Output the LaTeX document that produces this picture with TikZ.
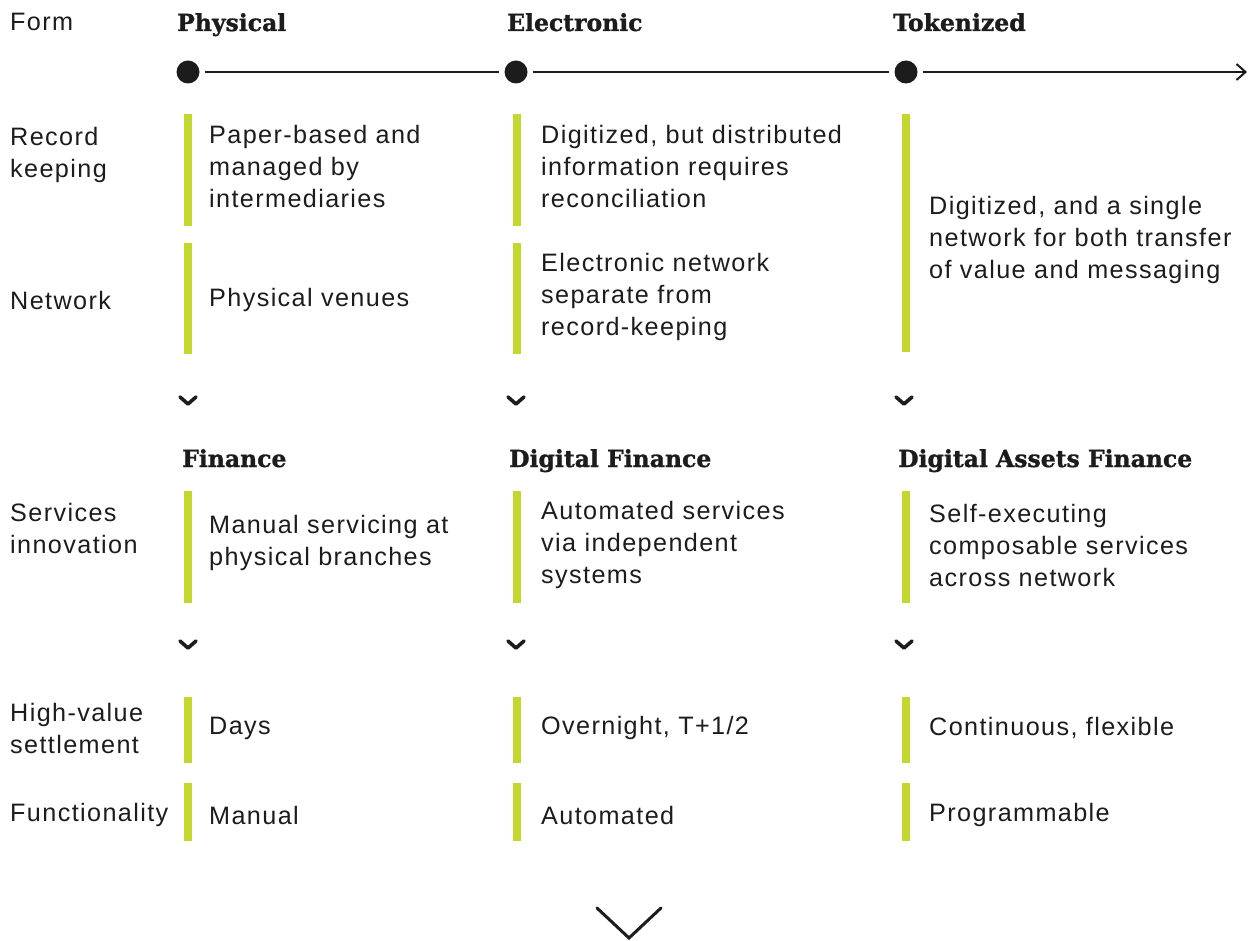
\documentclass[tikz,border=0pt]{standalone}
\usepackage{fontspec}
\usetikzlibrary{arrows.meta}
\newfontfamily\bodyfont[LetterSpace=5.5]{Liberation Sans}
\newfontfamily\headfont[FakeBold=1.2]{DejaVu Serif Bold}
\definecolor{bargreen}{HTML}{C4D72F}
\definecolor{ink}{HTML}{1C1C1C}
\begin{document}
\begin{tikzpicture}[x=1pt,y=-1pt,
  body/.style={anchor=west, align=left, inner sep=0pt, text=ink, font=\bodyfont\fontsize{25.2}{32}\selectfont},
  head/.style={anchor=base west, inner sep=0pt, text=ink, font=\headfont\fontsize{23.5}{28}\selectfont},
  bar/.style={fill=bargreen, draw=none},
  dot/.style={circle, fill=ink, draw=none, minimum size=23pt, inner sep=0pt},
  tline/.style={draw=ink, line width=2pt},
  chev/.style={draw=ink, line width=3.6pt, line cap=round, line join=round},
  bigchev/.style={draw=ink, line width=3pt, line cap=round, line join=miter}
]
\useasboundingbox (0,0) rectangle (1249,941);

% left labels
\node[body] (lform) at (10,22) {Form};
\node[body] (lrec) at (10,155) {Record\\keeping};
\node[body] (lnet) at (10,300) {Network};
\node[body] (lserv) at (10,528) {Services\\innovation};
\node[body] (lhv) at (10,728) {High-value\\settlement};
\node[body] (lfun) at (10,815) {Functionality};

% headers
\node[head] (h1) at (177,31) {Physical};
\node[head] (h2) at (507,31) {Electronic};
\node[head] (h3) at (893,31) {Tokenized};
\node[head] (f1) at (182,467) {Finance};
\node[head] (f2) at (509,467) {Digital Finance};
\node[head] (f3) at (898,467) {Digital Assets Finance};

% timeline
\node[dot] (d1) at (188,72) {};
\node[dot] (d2) at (516,72) {};
\node[dot] (d3) at (906,72) {};
\coordinate (tend) at (1247,72);
\draw[tline, shorten <=5pt, shorten >=5pt] (d1) -- (d2);
\draw[tline, shorten <=5pt, shorten >=5pt] (d2) -- (d3);
\draw[tline, shorten <=5pt, -{Straight Barb[length=9pt,width=16pt,line width=2pt]}] (d3) -- (tend);

% bars
\fill[bar] (184,114) rectangle (192,226);
\fill[bar] (513,114) rectangle (521,226);
\fill[bar] (902,114) rectangle (910,352);
\fill[bar] (184,243) rectangle (192,354);
\fill[bar] (513,243) rectangle (521,354);
\fill[bar] (184,491) rectangle (192,603);
\fill[bar] (513,491) rectangle (521,603);
\fill[bar] (902,491) rectangle (910,603);
\fill[bar] (184,697) rectangle (192,763);
\fill[bar] (513,697) rectangle (521,763);
\fill[bar] (902,697) rectangle (910,763);
\fill[bar] (184,783) rectangle (192,841);
\fill[bar] (513,783) rectangle (521,841);
\fill[bar] (902,783) rectangle (910,841);

% cells
\node[body] (c11) at (209,166) {Paper-based and\\managed by\\intermediaries};
\node[body] (c12) at (541,166) {Digitized, but distributed\\information requires\\reconciliation};
\node[body] (c13) at (929,240) {Digitized, and a single\\network for both transfer\\of value and messaging};
\node[body] (c21) at (209,300) {Physical venues};
\node[body] (c22) at (541,297) {Electronic network\\separate from\\record-keeping};
\node[body] (c31) at (209,543) {Manual servicing at\\physical branches};
\node[body] (c32) at (541,545) {Automated services\\via independent\\systems};
\node[body] (c33) at (929,545) {Self-executing\\composable services\\across network};
\node[body] (c41) at (209,728) {Days};
\node[body] (c42) at (541,728) {Overnight, T+1/2};
\node[body] (c43) at (929,728) {Continuous, flexible};
\node[body] (c51) at (209,815) {Manual};
\node[body] (c52) at (541,815) {Automated};
\node[body] (c53) at (929,815) {Programmable};

% small chevrons
\foreach \cx/\cy in {188/397, 516/397, 904/397, 188/641, 516/641, 904/641}{
  \draw[chev] (\cx-8,\cy) -- (\cx,\cy+7) -- (\cx+8,\cy);
}
% big chevron
\draw[bigchev] (597,908) -- (629,938) -- (661,908);
\end{tikzpicture}
\end{document}
